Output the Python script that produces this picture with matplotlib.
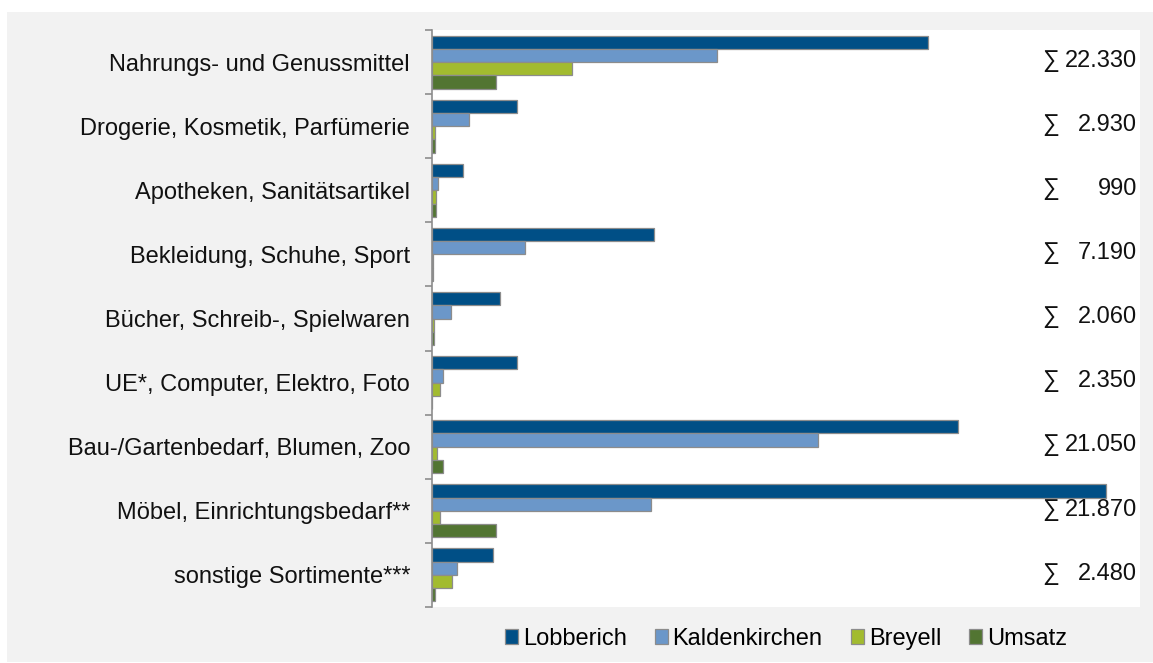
import matplotlib.pyplot as plt
import numpy as np
from matplotlib.patches import Rectangle
from matplotlib.transforms import blended_transform_factory

plt.rcParams['font.family'] = ['Liberation Sans', 'DejaVu Sans']

categories = ["Nahrungs- und Genussmittel", "Drogerie, Kosmetik, Parfümerie",
              "Apotheken, Sanitätsartikel", "Bekleidung, Schuhe, Sport",
              "Bücher, Schreib-, Spielwaren", "UE*, Computer, Elektro, Foto",
              "Bau-/Gartenbedarf, Blumen, Zoo", "Möbel, Einrichtungsbedarf**",
              "sonstige Sortimente***"]
series_names = ["Lobberich", "Kaldenkirchen", "Breyell", "Umsatz"]
lobberich = [11240, 1930, 700, 5030, 1550, 1930, 11930, 15290, 1390]
kaldenkirchen = [6460, 850, 130, 2110, 420, 240, 8755, 4960, 575]
breyell = [3170, 75, 80, 25, 40, 180, 115, 175, 445]
umsatz = [1460, 75, 80, 25, 50, 0, 250, 1445, 70]
totals = [22330, 2930, 990, 7190, 2060, 2350, 21050, 21870, 2480]

colors = ["#004f86", "#6b97c9", "#a2bb2f", "#527532"]

fig = plt.figure(figsize=(11.53, 6.63), dpi=100)
fig.patch.set_facecolor("white")
fig.patches.append(Rectangle((7 / 1153, 1 - 662 / 663), 1, 650 / 663,
                             transform=fig.transFigure, facecolor="#f2f2f2",
                             edgecolor="none", zorder=-10))

ax = fig.add_axes([432 / 1153, 1 - 607 / 663, (1140 - 432) / 1153, (607 - 30) / 663])
ax.set_facecolor("white")

centers = np.arange(len(categories)) + 0.5
h = 0.207
for j, vals in enumerate([lobberich, kaldenkirchen, breyell, umsatz]):
    ax.barh(centers + (j - 1.5) * h, vals, height=h, color=colors[j],
            edgecolor="#8c8c8c", linewidth=0.9, label=series_names[j])

ax.set_xlim(0, 16050)
ax.set_ylim(len(categories), 0)

ax.set_yticks(np.arange(len(categories) + 1))
ax.set_yticklabels([])
ax.set_yticks(centers, minor=True)
ax.set_yticklabels(categories, minor=True, fontsize=17, color="#111111")
ax.tick_params(axis="y", which="major", length=5, width=1.2, color="#8c8c8c")
ax.tick_params(axis="y", which="minor", length=0, pad=15.8)
ax.set_xticks([])

for s in ["top", "right", "bottom"]:
    ax.spines[s].set_visible(False)
ax.spines["left"].set_color("#8c8c8c")
ax.spines["left"].set_linewidth(1.2)

tr = blended_transform_factory(ax.transAxes, ax.transData)
for c, t in zip(centers, totals):
    ax.text((1042 - 432) / 708, c - 0.02, "∑", transform=tr, ha="left", va="center",
            fontsize=17, color="#111111")
    ax.text((1137 - 432) / 708, c - 0.02, f"{t:,}".replace(",", "."), transform=tr,
            ha="right", va="center", fontsize=17, color="#111111")

ax.legend(loc="center", bbox_to_anchor=(0.5, -0.056), ncol=4, frameon=False,
          fontsize=17, handlelength=0.55, handleheight=0.6, handletextpad=0.2,
          columnspacing=1.2, borderaxespad=0)

fig.savefig("out.png", dpi=100)
